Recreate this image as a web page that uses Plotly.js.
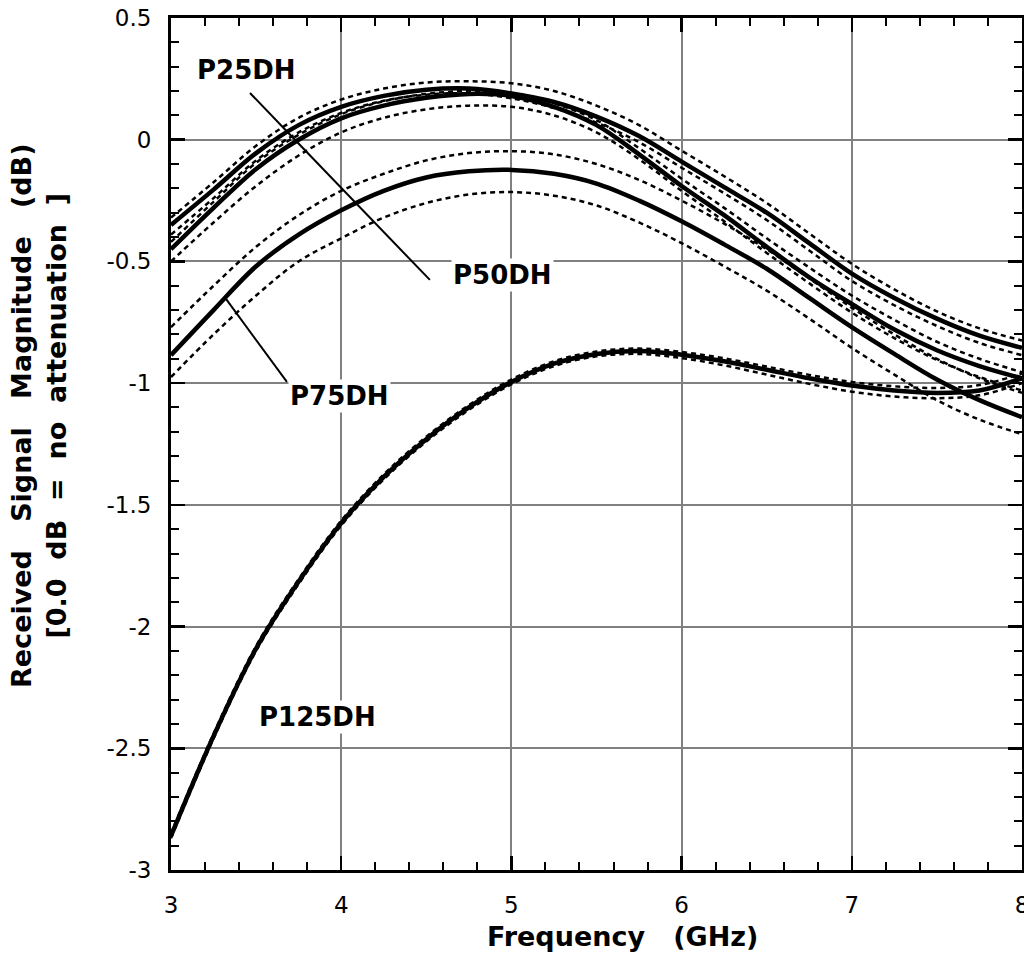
<!DOCTYPE html>
<html><head><meta charset="utf-8">
<script src="https://cdn.plot.ly/plotly-3.0.1.min.js"></script>
<style>html,body{margin:0;padding:0;background:#fff}#chart{width:1024px;height:955px}</style>
</head><body><div id="chart"></div>
<script>
// Frequency (GHz)
const freq = [3,3.25,3.5,3.75,4,4.25,4.5,4.75,5,5.25,5.5,5.75,6,6.25,6.5,6.75,7,7.25,7.5,7.75,8];

// P25DH: nominal and envelope (dB)
const p25DH = [-0.35,-0.205,-0.055,0.06,0.135,0.18,0.205,0.21,0.19,0.155,0.095,0.015,-0.09,-0.195,-0.30,-0.425,-0.55,-0.65,-0.735,-0.805,-0.855];
const p25Up = [-0.32,-0.175,-0.025,0.09,0.165,0.21,0.235,0.24,0.232,0.20,0.14,0.06,-0.045,-0.15,-0.26,-0.385,-0.51,-0.615,-0.705,-0.775,-0.825];
const p25Lo = [-0.39,-0.24,-0.085,0.03,0.11,0.16,0.185,0.19,0.17,0.13,0.07,-0.01,-0.115,-0.22,-0.33,-0.455,-0.58,-0.68,-0.765,-0.835,-0.885];

// P50DH
const p50DH = [-0.45,-0.28,-0.12,0.0,0.088,0.14,0.172,0.188,0.18,0.135,0.06,-0.06,-0.19,-0.31,-0.44,-0.565,-0.675,-0.78,-0.865,-0.93,-0.98];
const p50Up = [-0.42,-0.255,-0.095,0.02,0.105,0.158,0.188,0.2,0.192,0.15,0.08,-0.035,-0.16,-0.28,-0.405,-0.525,-0.64,-0.74,-0.83,-0.9,-0.955];
const p50Lo = [-0.50,-0.34,-0.19,-0.065,0.03,0.09,0.125,0.14,0.135,0.10,0.03,-0.08,-0.21,-0.335,-0.465,-0.59,-0.71,-0.815,-0.905,-0.975,-1.03];

// P75DH
const p75DH = [-0.885,-0.70,-0.52,-0.39,-0.29,-0.21,-0.155,-0.13,-0.124,-0.14,-0.18,-0.25,-0.335,-0.43,-0.53,-0.65,-0.77,-0.88,-0.985,-1.07,-1.14];
const p75Up = [-0.77,-0.60,-0.44,-0.31,-0.21,-0.14,-0.085,-0.055,-0.047,-0.06,-0.10,-0.165,-0.25,-0.345,-0.45,-0.57,-0.69,-0.80,-0.90,-0.98,-1.04];
const p75Lo = [-0.975,-0.80,-0.64,-0.50,-0.405,-0.32,-0.26,-0.225,-0.215,-0.23,-0.27,-0.34,-0.425,-0.52,-0.62,-0.735,-0.855,-0.965,-1.07,-1.15,-1.21];

// P125DH
const p125DH = [-2.86,-2.45,-2.09,-1.815,-1.575,-1.385,-1.23,-1.10,-0.995,-0.92,-0.88,-0.868,-0.883,-0.91,-0.945,-0.98,-1.01,-1.03,-1.04,-1.03,-0.98];
const p125Up = [-2.85,-2.44,-2.08,-1.805,-1.565,-1.375,-1.22,-1.09,-0.985,-0.91,-0.87,-0.858,-0.872,-0.898,-0.932,-0.966,-0.995,-1.013,-1.02,-1.008,-0.96];
const p125Lo = [-2.87,-2.46,-2.10,-1.825,-1.585,-1.395,-1.24,-1.11,-1.005,-0.93,-0.89,-0.88,-0.897,-0.927,-0.965,-1.003,-1.035,-1.055,-1.062,-1.05,-1.0];

// Tick labels
const xTickVals = [3,4,5,6,7,8];
const xTickText = ['3','4','5','6','7','8'];
const yTickVals = [0.5,0,-0.5,-1,-1.5,-2,-2.5,-3];
const yTickText = ['0.5','0','-0.5','-1','-1.5','-2','-2.5','-3'];

// Curve labels
const labelText = ['P25DH','P50DH','P75DH','P125DH'];
const labelX = [3.446,4.950,3.992,3.863];
const labelY = [0.286,-0.556,-1.053,-2.372];

function dotted(y, name){
  return {x:freq, y:y, name:name, mode:'lines', showlegend:false, hoverinfo:'skip',
    line:{color:'black', width:2.5, dash:'5px,4px', shape:'spline'}};
}
function solid(y, name){
  return {x:freq, y:y, name:name, mode:'lines', showlegend:false,
    line:{color:'black', width:4.5, shape:'spline'}};
}

const data = [
  dotted(p25Up,'P25DH upper'), dotted(p25Lo,'P25DH lower'),
  dotted(p50Up,'P50DH upper'), dotted(p50Lo,'P50DH lower'),
  dotted(p75Up,'P75DH upper'), dotted(p75Lo,'P75DH lower'),
  dotted(p125Up,'P125DH upper'), dotted(p125Lo,'P125DH lower'),
  solid(p25DH,'P25DH'), solid(p50DH,'P50DH'), solid(p75DH,'P75DH'), solid(p125DH,'P125DH')
];

const tickFont = {family:'DejaVu Sans', size:23, color:'black'};
const titleFont = {family:'DejaVu Sans', size:27, color:'black', weight:'bold'};
const labelFont = {family:'DejaVu Sans', size:26, color:'black', weight:'bold'};

function axisBase(){
  return {
    tickmode:'array', ticks:'inside', ticklen:14, tickwidth:2.5, tickcolor:'black',
    showline:true, linewidth:3, linecolor:'black', mirror:'allticks',
    showgrid:true, gridcolor:'#808080', gridwidth:2, zeroline:false,
    tickfont:tickFont, fixedrange:true, ticklabeloverflow:'allow'
  };
}

const xaxis = Object.assign(axisBase(), {
  range:[3,8], tickvals:xTickVals, ticktext:xTickText, ticklabelstandoff:12,
  minor:{tickmode:'linear', tick0:3, dtick:0.2, ticks:'inside', ticklen:8, tickwidth:2, tickcolor:'black', showgrid:false}
});
const yaxis = Object.assign(axisBase(), {
  range:[-3,0.5], tickvals:yTickVals, ticktext:yTickText, ticklabelstandoff:12,
  minor:{tickmode:'linear', tick0:0, dtick:0.1, ticks:'inside', ticklen:8, tickwidth:2, tickcolor:'black', showgrid:false}
});

const annotations = labelText.map((t,i)=>({
  x:labelX[i], y:labelY[i], xref:'x', yref:'y', text:t, showarrow:false,
  font:labelFont, bgcolor:'white', borderpad:1, xanchor:'center', yanchor:'middle'
}));
annotations.push({
  xref:'paper', yref:'paper', x:0.531, y:-0.0786, xanchor:'center', yanchor:'middle',
  text:'Frequency\u00a0\u00a0\u00a0(GHz)', showarrow:false, font:titleFont
});
annotations.push({
  xref:'paper', yref:'paper', x:-0.155, y:0.533, xanchor:'center', yanchor:'middle',
  textangle:-90, showarrow:false, font:titleFont,
  text:'Received\u00a0\u00a0\u00a0Signal\u00a0\u00a0\u00a0Magnitude\u00a0\u00a0\u00a0(dB)<br>[0.0\u00a0\u00a0dB\u00a0\u00a0=\u00a0\u00a0no\u00a0\u00a0attenuation\u00a0\u00a0]'
});

const lineStyle = {color:'black', width:2};
const shapes = [
  {type:'line', xref:'x', yref:'y', x0:3.464, y0:0.192, x1:3.687, y1:0.0296, line:lineStyle, layer:'above'},
  {type:'line', xref:'x', yref:'y', x0:3.687, y0:0.0296, x1:4.521, y1:-0.576, line:lineStyle, layer:'above'},
  {type:'line', xref:'x', yref:'y', x0:3.323, y0:-0.654, x1:3.681, y1:-0.995, line:lineStyle, layer:'above'}
];

const layout = {
  width:1024, height:955,
  margin:{l:171, r:2, t:18, b:85, pad:0},
  paper_bgcolor:'white', plot_bgcolor:'white',
  showlegend:false,
  xaxis:xaxis, yaxis:yaxis,
  annotations:annotations, shapes:shapes
};

Plotly.newPlot('chart', data, layout, {displayModeBar:false, staticPlot:true});
</script>
</body></html>
